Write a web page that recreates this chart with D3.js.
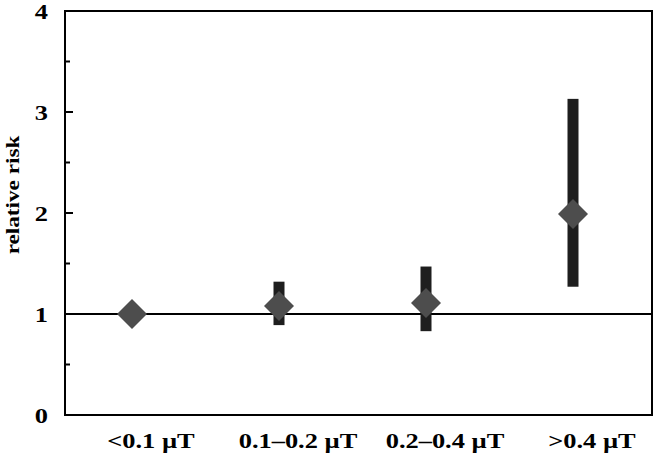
<!DOCTYPE html>
<html><head><meta charset="utf-8">
<script src="https://cdn.jsdelivr.net/npm/d3@7"></script>
<style>body{margin:0;background:#fff}svg{display:block}text{font-family:"Liberation Serif","Times New Roman",serif;font-weight:bold;fill:#000}</style>
</head><body>
<svg id="c" width="654" height="453"></svg>
<script>
const categories = ["<0.1 µT", "0.1–0.2 µT", "0.2–0.4 µT", ">0.4 µT"];
const relativeRisk = [1.0, 1.08, 1.11, 1.99];
const lowerCI = [1.0, 0.89, 0.83, 1.27];
const upperCI = [1.0, 1.32, 1.47, 3.13];
const yTicks = [0, 1, 2, 3, 4];
const yMinorTicks = [0.5, 1.5, 2.5, 3.5];
const yLabel = "relative risk";

(function () {
const svg = d3.select("#c");
const mL = 65, mR = 652, mT = 11, mB = 415;
const stretch = 1.2;
const y = d3.scaleLinear().domain([0, 4]).range([mB, mT]);
const x = d3.scalePoint().domain(categories).range([132, 573]);

// frame
svg.append("rect").attr("x", mL).attr("y", mT).attr("width", mR - mL).attr("height", mB - mT)
  .attr("fill", "none").attr("stroke", "#000").attr("stroke-width", 2);

// reference line at 1
svg.append("line").attr("x1", mL).attr("x2", mR).attr("y1", y(1)).attr("y2", y(1))
  .attr("stroke", "#000").attr("stroke-width", 2);

// y axis ticks (inward)
const ax = svg.append("g").attr("transform", `translate(${mL},0)`);
ax.selectAll("line.maj").data(yTicks).join("line").attr("class", "maj")
  .attr("x1", 0).attr("x2", 8).attr("y1", d => y(d)).attr("y2", d => y(d))
  .attr("stroke", "#000").attr("stroke-width", 2);
ax.selectAll("line.min").data(yMinorTicks).join("line").attr("class", "min")
  .attr("x1", 0).attr("x2", 5).attr("y1", d => y(d)).attr("y2", d => y(d))
  .attr("stroke", "#000").attr("stroke-width", 2);
ax.selectAll("text").data(yTicks).join("text")
  .attr("transform", d => `translate(-17,${y(d)}) scale(${stretch},1)`)
  .attr("dy", "0.35em")
  .attr("text-anchor", "end").attr("font-size", 22).text(d => d);

// y label
svg.append("text").attr("transform", `translate(19,195) rotate(-90) scale(1.22,1)`)
  .attr("text-anchor", "middle").attr("font-size", 19).text(yLabel);

// x labels
svg.selectAll("text.xl").data(categories).join("text").attr("class", "xl")
  .attr("transform", d => `translate(${x(d) + 19},448) scale(${stretch},1)`)
  .attr("text-anchor", "middle")
  .attr("font-size", 22).text(d => d);

// error bars
const data = categories.map((c, i) => ({c, rr: relativeRisk[i], lo: lowerCI[i], hi: upperCI[i]}));
svg.selectAll("rect.err").data(data).join("rect").attr("class", "err")
  .attr("x", d => x(d.c) - 5.5).attr("width", 11)
  .attr("y", d => y(d.hi)).attr("height", d => y(d.lo) - y(d.hi))
  .attr("fill", "#1e1e1e");

// diamonds
const sym = d3.symbol().type(d3.symbolSquare).size(450);
svg.selectAll("path.pt").data(data).join("path").attr("class", "pt")
  .attr("d", sym)
  .attr("transform", d => `translate(${x(d.c)},${y(d.rr)}) rotate(45)`)
  .attr("fill", "#4d4d4d");
})();
</script>
</body></html>
